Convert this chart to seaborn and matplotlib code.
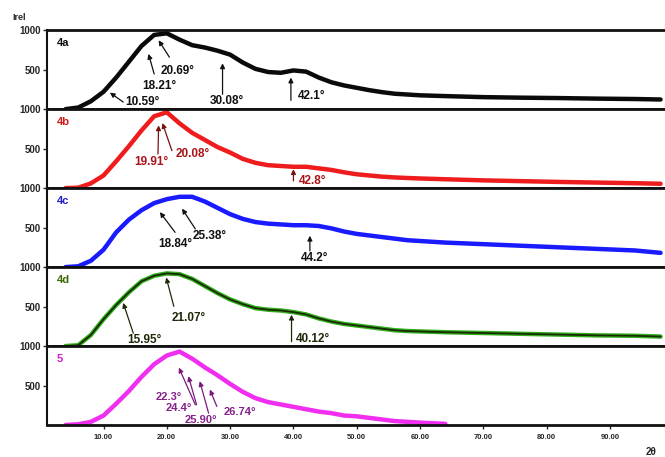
import numpy as np
import pandas as pd
import matplotlib
matplotlib.use("Agg")
import matplotlib.pyplot as plt
import seaborn as sns

# ---- data (2theta in degrees, relative intensity) ----
two_theta = [4, 6, 8, 10, 12, 14, 16, 18, 20, 22, 24, 26, 28, 30, 32, 34, 36, 38,
             40, 42, 44, 46, 48, 50, 52, 54, 56, 58, 60, 64, 70, 76, 82, 88, 94, 98]
int_4a = [0, 20, 100, 220, 400, 600, 800, 940, 960, 880, 810, 780, 740, 690, 590, 510, 470, 460,
          490, 475, 400, 340, 300, 270, 240, 215, 195, 185, 175, 165, 152, 145, 140, 133, 128, 122]
int_4b = [0, 5, 60, 160, 340, 530, 730, 910, 960, 820, 700, 610, 520, 450, 370, 320, 290, 280,
          270, 270, 250, 230, 200, 175, 160, 145, 135, 128, 122, 112, 98, 88, 78, 70, 62, 55]
int_4c = [0, 10, 80, 220, 440, 600, 720, 810, 860, 890, 890, 830, 750, 670, 610, 570, 550, 540,
          530, 530, 520, 490, 450, 420, 400, 380, 360, 340, 330, 310, 290, 270, 250, 230, 210, 180]
int_4d = [0, 10, 140, 340, 520, 680, 820, 890, 920, 910, 850, 760, 670, 590, 530, 480, 460, 450,
          430, 400, 350, 310, 280, 260, 240, 220, 200, 190, 185, 175, 165, 155, 145, 135, 130, 120]
int_5 = [0, 10, 40, 120, 270, 430, 610, 770, 880, 930, 840, 730, 630, 520, 420, 340, 290, 260,
         230, 200, 170, 150, 120, 110, 90, 70, 50, 40, 30, 15, np.nan, np.nan, np.nan, np.nan, np.nan, np.nan]

samples = ["4a", "4b", "4c", "4d", "5"]
series = [int_4a, int_4b, int_4c, int_4d, int_5]

labels_4a = ["10.59°", "18.21°", "20.69°", "30.08°", "42.1°"]
labels_4b = ["19.91°", "20.08°", "42.8°"]
labels_4c = ["18.84°", "25.38°", "44.2°"]
labels_4d = ["15.95°", "21.07°", "40.12°"]
labels_5 = ["22.3°", "24.4°", "25.90°", "26.74°"]

x_ticks = [10, 20, 30, 40, 50, 60, 70, 80, 90]
x_tick_labels = ["10.00", "20.00", "30.00", "40.00", "50.00", "60.00", "70.00", "80.00", "90.00"]
y_ticks = [500, 1000]
y_tick_labels = ["500", "1000"]

df = pd.DataFrame({
    "two_theta": two_theta * len(samples),
    "intensity": [v for s in series for v in s],
    "sample": [n for n in samples for _ in two_theta],
})

# ---- styling ----
sns.set_style("white")
plt.rcParams['font.family'] = ['Liberation Sans', 'DejaVu Sans']

line_colors = {"4a": "#0a0a0a", "4b": "#ee1c1c", "4c": "#1a1aff", "4d": "#2fae1a", "5": "#f02ef0"}
label_colors = {"4a": "#111111", "4b": "#d01a1a", "4c": "#2020c8", "4d": "#3d6a05", "5": "#d020d0"}
text_colors = {"4a": "#111111", "4b": "#a81418", "4c": "#111111", "4d": "#1c2a08", "5": "#86208a"}
arrow_colors = {"4a": "#111111", "4b": "#7a1010", "4c": "#111111", "4d": "#1c2a08", "5": "#7a1a7e"}
text_sizes = {"4a": 8.5, "4b": 8.5, "4c": 8.5, "4d": 8.5, "5": 8}

# annotation layout: (tip_x, tip_y, tail_x, tail_y, text_x, text_y, ha)
ann_layout = {
    "4a": [(11.0, 209, 13.1, 90, 13.5, 95, "left"),
           (17.1, 700, 18.0, 445, 18.8, 295, "center"),
           (18.7, 872, 20.4, 658, 19.0, 487, "left"),
           (28.8, 580, 28.8, 188, 29.4, 100, "center"),
           (39.6, 400, 39.6, 111, 40.7, 167, "left")],
    "4b": [(18.7, 795, 18.6, 432, 17.6, 333, "center"),
           (19.3, 824, 20.8, 474, 24.1, 436, "center"),
           (40.0, 240, 40.0, 90, 40.8, 90, "left")],
    "4c": [(18.9, 696, 21.3, 440, 21.4, 295, "center"),
           (22.4, 740, 24.5, 483, 26.7, 397, "center"),
           (42.6, 397, 42.6, 205, 43.4, 120, "center")],
    "4d": [(13.1, 547, 14.7, 163, 16.5, 77, "center"),
           (19.9, 868, 21.1, 504, 23.5, 359, "center"),
           (39.7, 397, 39.7, 55, 40.4, 90, "left")],
    "5": [(21.9, 727, 24.5, 256, 20.3, 350, "center"),
          (23.4, 619, 24.7, 256, 21.9, 215, "center"),
          (25.2, 555, 26.6, 150, 25.4, 68, "center"),
          (26.8, 449, 27.9, 235, 31.5, 171, "center")],
}
ann_labels = {"4a": labels_4a, "4b": labels_4b, "4c": labels_4c, "4d": labels_4d, "5": labels_5}

fig, axes = plt.subplots(5, 1, figsize=(6.65, 4.57), dpi=100, sharex=True,
                         gridspec_kw=dict(hspace=0))
fig.subplots_adjust(left=0.0707, right=1.0, top=0.934, bottom=0.070)

for ax, s in zip(axes, samples):
    sub = df[df["sample"] == s]
    sns.lineplot(data=sub, x="two_theta", y="intensity", ax=ax, color=line_colors[s],
                 lw=3.2, estimator=None, sort=False, legend=False)
    if s == "4d":
        sns.lineplot(data=sub, x="two_theta", y="intensity", ax=ax, color="#1a2a06",
                     lw=1.3, estimator=None, sort=False, legend=False)
    ax.set_xlim(1.07, 98.7)
    ax.set_ylim(0, 1000)
    ax.set_xlabel("")
    ax.set_ylabel("")
    ax.set_yticks(y_ticks)
    ax.set_yticklabels(y_tick_labels, fontsize=7, fontweight="bold")
    ax.tick_params(axis="y", direction="out", length=3, width=1, pad=1.5, left=True)
    ax.tick_params(axis="x", direction="out", length=3, width=1, bottom=(s == "5"))
    for side in ["top", "bottom"]:
        ax.spines[side].set_linewidth(2.0)
        ax.spines[side].set_color("#111111")
    ax.spines["left"].set_linewidth(1.5)
    ax.spines["left"].set_color("#111111")
    ax.spines["right"].set_visible(False)

    ax.text(0.016, 0.84, s, transform=ax.transAxes, fontsize=8, fontweight="bold",
            color=label_colors[s], va="center", ha="left")

    for lab, (tx, ty, bx, by, lx, ly, ha) in zip(ann_labels[s], ann_layout[s]):
        ax.annotate("", xy=(tx, ty), xytext=(bx, by),
                    arrowprops=dict(arrowstyle="-|>", color=arrow_colors[s], lw=0.9,
                                    mutation_scale=7, shrinkA=0, shrinkB=0))
        ax.text(lx, ly, lab, fontsize=text_sizes[s], fontweight="bold", color=text_colors[s],
                ha=ha, va="center")

axes[-1].set_xticks(x_ticks)
axes[-1].set_xticklabels(x_tick_labels, fontsize=5.5, fontweight="bold")

fig.text(12 / 665, 1 - 17 / 457, "Irel", fontsize=6.5, fontweight="bold", va="center")
fig.text(646 / 665, 1 - 452 / 457, "2θ", fontsize=7, fontweight="bold", va="center")

fig.savefig("out.png", dpi=100)
